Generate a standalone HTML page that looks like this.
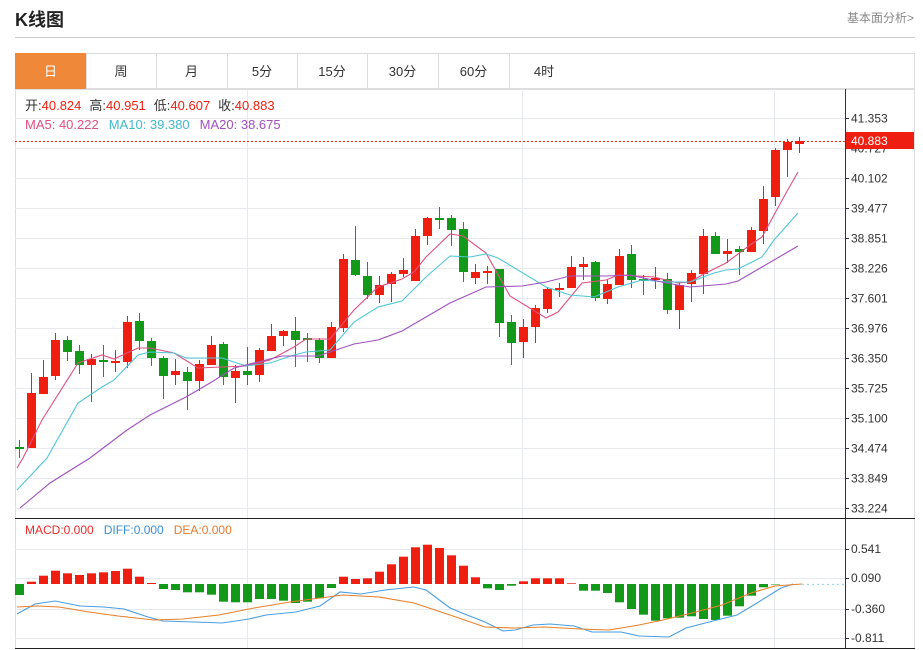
<!DOCTYPE html>
<html><head><meta charset="utf-8">
<style>
body{margin:0;background:#fff;width:923px;height:650px;overflow:hidden;font-family:"Liberation Sans","Noto Sans CJK SC",sans-serif;}
#root{position:relative;width:923px;height:650px;}
.t{position:absolute;white-space:nowrap;}
</style></head><body><div id="root">
<div class="t" style="left:15px;top:6px;font-size:18px;font-weight:bold;color:#222;">K线图</div>
<div class="t" style="left:847px;top:9px;font-size:12px;color:#888;">基本面分析&gt;</div>
<div style="position:absolute;left:15px;top:37px;width:900px;height:1px;background:#ccc"></div>
<svg id="s" width="923" height="650" style="position:absolute;left:0;top:0" xmlns="http://www.w3.org/2000/svg" font-family="Liberation Sans, Noto Sans CJK SC, sans-serif"></svg>
</div>
<script>
var s=document.getElementById('s'),h='';
function L(x1,y1,x2,y2,c,w,d){h+='<line x1="'+x1+'" y1="'+y1+'" x2="'+x2+'" y2="'+y2+'" stroke="'+c+'" stroke-width="'+(w||1)+'"'+(d?' stroke-dasharray="'+d+'"':'')+'/>';}
function T(x,y,t,c,sz,a){h+='<text x="'+x+'" y="'+y+'" fill="'+c+'" font-size="'+sz+'"'+(a?' text-anchor="'+a+'"':'')+'>'+t+'</text>';}
// tabs
h+='<rect x="15.5" y="53.5" width="899" height="35" fill="#fff" stroke="#ddd"/>';
h+='<rect x="15" y="53" width="71" height="36" fill="#f0883a"/>';
var tb=[15,86,156,227,297,367,438,509,579],tn=['日','周','月','5分','15分','30分','60分','4时'];
for(var i=0;i<8;i++){if(i>0)L(tb[i]+.5,53,tb[i]+.5,89,'#ddd');T((tb[i]+tb[i+1])/2,76,tn[i],i==0?'#fff':'#333',13,'middle');}
L(15,89.5,915,89.5,'#ddd');L(914.5,89,914.5,648,'#ddd');L(15.5,89,15.5,648,'#ddd');
// grid
var labs=['41.353','40.727','40.102','39.477','38.851','38.226','37.601','36.976','36.350','35.725','35.100','34.474','33.849','33.224'];
for(var i=0;i<14;i++){var y=118+i*30+.5;L(15,y,845,y,'#e6e9ee');L(845,y,849,y,'#333');T(851,y+4,labs[i],'#333',12);}
[247,522,774].forEach(function(x){L(x+.5,89,x+.5,648,'#e6e9ee');});
var my=[[549,'0.541'],[578,'0.090'],[609,'-0.360'],[638,'-0.811']];
my.forEach(function(m){L(15,m[0]+.5,845,m[0]+.5,'#e6e9ee');L(845,m[0]+.5,849,m[0]+.5,'#333');T(851,m[0]+4,m[1],'#333',12);});
L(845.5,89,845.5,648,'#333');
L(15,518.5,915,518.5,'#222');L(15,648.5,915,648.5,'#222');
// candles
var R='#ee1f10',G='#13991a';
var c=[['g',440,447,449,458],['r',373,393,448,448],['r',360,377,394,394],['r',333,340,376,380],['g',336,340,352,361],['g',345,351,365,374],['r',354,359,365,402],['g',345,360,362,377],['r',350,361,363,372],['r',316,322,362,368],['g',313,321,341,350],['g',338,341,358,366],['g',356,358,376,399],['r',359,371,375,385],['g',367,372,381,410],['r',360,364,381,391],['r',336,345,365,365],['g',342,344,377,385],['r',365,371,378,403],['g',347,371,375,385],['r',348,350,375,382],['r',324,336,351,351],['r',330,331,336,346],['g',317,331,340,367],['g',333,338,340,362],['g',338,340,358,363],['r',322,327,358,358],['r',254,259,328,332],['g',226,260,275,276],['g',262,276,295,299],['r',276,285,295,303],['r',272,274,284,302],['r',258,270,274,277],['r',229,236,281,281],['r',217,218,236,245],['g',207,218,220,229],['g',215,218,230,246],['g',222,229,272,282],['r',264,272,278,284],['r',266,271,273,284],['g',269,269,323,337],['g',315,322,343,365],['r',319,327,342,358],['r',305,308,327,343],['r',287,289,309,313],['r',283,288,290,297],['r',256,267,288,288],['r',257,264,267,280],['g',261,262,298,301],['r',280,284,299,304],['r',249,256,285,285],['g',245,254,280,288],['g',275,279,281,295],['r',267,278,279,289],['g',273,279,310,314],['r',283,285,310,329],['r',270,273,284,302],['r',229,236,274,294],['g',232,236,254,254],['r',239,251,254,263],['g',246,249,252,275],['r',227,230,252,252],['r',186,199,231,244],['r',148,150,197,206],['r',139,142,150,177],['r',137,141,144,153]];
c.forEach(function(d,i){var x=19+12*i,col=d[0]=='r'?R:G;L(x+.5,d[1],x+.5,d[4],col,1);var bh=Math.max(2,d[3]-d[2]);h+='<rect x="'+(x-4)+'" y="'+d[2]+'" width="9" height="'+bh+'" fill="'+col+'"/>';});
function P(pts,col){h+='<polyline fill="none" stroke="'+col+'" stroke-width="1.1" points="'+pts+'"/>';}
P('17,468 23,458 42,420 78,363 102,355 114,359 138,348 150,348 174,353 198,368 222,367 246,366 270,360 294,347 306,339 330,339 354,310 378,287 402,279 414,272 426,257 450,234 463,236 486,253 510,296 546,318 558,312 582,283 606,280 618,275 654,277 678,283 690,282 702,275 726,263 750,245 762,237 786,193 798,172','#e0507f');
P('17,490 47,458 78,403 102,387 114,380 138,355 150,352 174,353 186,358 222,358 234,362 246,366 270,363 294,355 306,352 330,350 354,322 378,307 402,301 426,277 450,256 470,257 486,254 498,258 546,287 570,295 594,297 618,287 642,280 666,282 690,282 714,273 726,270 738,269 750,263 762,257 774,240 798,213','#4fc6d8');
P('20,508 50,483 90,458 127,430 150,415 186,397 210,383 234,368 258,362 282,356 318,356 354,344 378,340 402,331 426,317 450,303 486,287 522,286 546,282 570,276 606,276 630,275 666,283 690,287 726,284 738,281 762,267 798,246','#a050c0');
// current price
L(15,141.5,845,141.5,R,1,'2,2');
h+='<rect x="846" y="132" width="68" height="17" fill="'+R+'"/>';T(851,145,'40.883','#fff',12);
// info
h+='<text x="25" y="110" font-size="13"><tspan fill="#333">开:</tspan><tspan fill="'+R+'">40.824</tspan><tspan fill="#333" dx="8">高:</tspan><tspan fill="'+R+'">40.951</tspan><tspan fill="#333" dx="8">低:</tspan><tspan fill="'+R+'">40.607</tspan><tspan fill="#333" dx="8">收:</tspan><tspan fill="'+R+'">40.883</tspan></text>';
h+='<text x="25" y="129" font-size="13"><tspan fill="#e0507f">MA5: 40.222</tspan><tspan fill="#3fb9cc" dx="10">MA10: 39.380</tspan><tspan fill="#a050c0" dx="10">MA20: 38.675</tspan></text>';
h+='<text x="25" y="534" font-size="12"><tspan fill="#ee2a2a">MACD:0.000</tspan><tspan fill="#3a8fd8" dx="10">DIFF:0.000</tspan><tspan fill="#e87a2a" dx="10">DEA:0.000</tspan></text>';
// macd bars
var m=[-11,2.3,8.3,13.3,10.7,9,10.7,11.7,13,15.3,7.3,1,-5,-6,-8.3,-8.3,-10.7,-17.7,-18.3,-18.3,-15,-15,-16.7,-19,-17.7,-14.3,-4,7.3,5,5.7,12.3,19.7,27.3,36.7,39.3,36,28.7,18.3,6.7,-4.3,-6,-1.7,2.7,5.7,5.7,5.7,0.7,-6.7,-6.7,-9,-18.3,-25,-30.7,-36.7,-34.3,-33.7,-32.3,-35,-36,-31.7,-22.3,-11.7,-3.3,-0.5];
var b=584;
m.forEach(function(v,i){var x=19+12*i-4;var y=v>0?b-v:b;h+='<rect x="'+x+'" y="'+y.toFixed(1)+'" width="9" height="'+Math.abs(v).toFixed(1)+'" fill="'+(v>0?R:G)+'"/>';});
L(802,584.5,845,584.5,'#9fd8e8',1.2,'2,3');
P('17,614 35,604 55,601 80,606 104,607 124,609 148,617 163,621 195,622 222,623 249,619 266,615 296,612 320,606 340,592 361,594 385,590 414,587 426,590 450,608 467,615 485,622 503,631 515,630 533,625 550,624 574,626 592,632 621,632 639,636 669,637 686,628 713,621 737,615 757,603 781,588 793,584','#4a9ee0');
P('17,607 38,606 59,607 89,612 118,616 154,620 183,619 219,615 254,608 290,602 320,598 343,595 379,597 414,603 450,615 485,627 515,628 544,627 580,629 609,630 639,625 663,620 692,613 722,605 751,593 775,586 802,584','#e8802a');
s.innerHTML=h;
</script>
</body></html>
